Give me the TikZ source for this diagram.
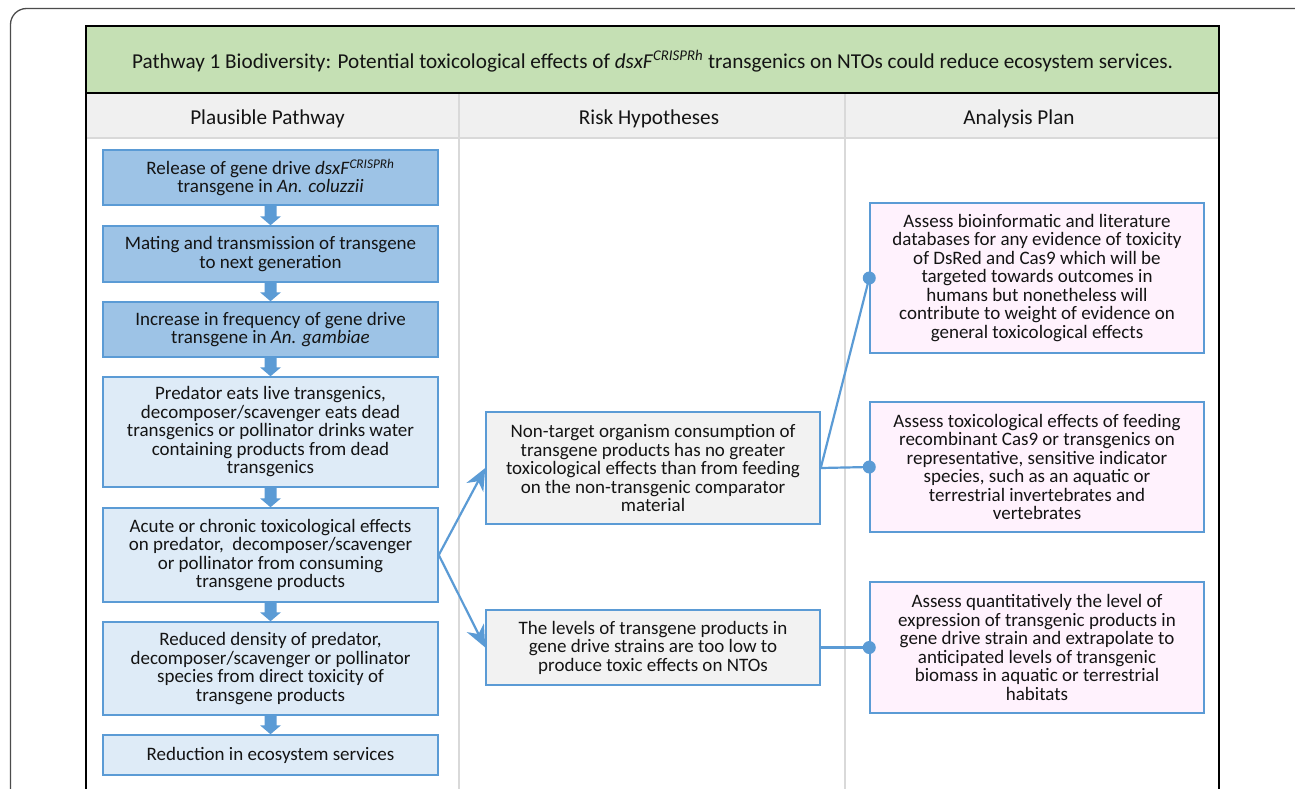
\documentclass[tikz,border=0pt]{standalone}
\usepackage{fontspec}
\setmainfont{Carlito}
\usetikzlibrary{arrows.meta,calc}
\definecolor{edgeblue}{HTML}{5B9BD5}
\definecolor{darkfill}{HTML}{9DC3E6}
\definecolor{lightfill}{HTML}{DEEBF7}
\definecolor{hypfill}{HTML}{F2F2F2}
\definecolor{planfill}{HTML}{FFF2FD}
\definecolor{titlegreen}{HTML}{C5E0B4}
\definecolor{headgray}{HTML}{F0F0F0}
\definecolor{rulegray}{HTML}{D9D9D9}
\definecolor{textcol}{HTML}{141414}

% block arrow between two stacked boxes
\newcommand\flowarrow[2]{%
  \fill[edgeblue] let \p1=(#1.south), \p2=(#2.north) in
    (\x1-6pt,\y1) -- (\x1+6pt,\y1) -- (\x1+6pt,\y2+9pt) -- (\x1+10.5pt,\y2+9pt)
    -- (\x1,\y2) -- (\x1-10.5pt,\y2+9pt) -- (\x1-6pt,\y2+9pt) -- cycle;}

\begin{document}
\begin{tikzpicture}[x=1pt,y=-1pt,
  boxbase/.style={draw=edgeblue, line width=1.5pt, inner sep=0pt, align=center,
    text=textcol, font=\fontsize{19}{18.5}\selectfont},
  darkbox/.style={boxbase, fill=darkfill, minimum width=335pt},
  lightbox/.style={boxbase, fill=lightfill, minimum width=335pt},
  hypbox/.style={boxbase, fill=hypfill, minimum width=334pt},
  planbox/.style={boxbase, fill=planfill, minimum width=334pt},
  link/.style={draw=edgeblue, line width=2.2pt},
  barb/.style={-{Stealth[length=22pt, width=19pt, inset=7pt]}},
  headtext/.style={font=\fontsize{21.2}{25}\selectfont, text=textcol},
]
\useasboundingbox (0,0) rectangle (1295,789);
\fill[white] (0,0) rectangle (1295,789);
\clip (0,0) rectangle (1295,789);

% outer frame
\draw[line width=1.3pt, draw=black!70, rounded corners=16pt] (10.5,8.5) rectangle (1320,830);

% table
\fill[titlegreen] (86,26) rectangle (1219,93);
\fill[headgray] (86,93) rectangle (1219,138);
\draw[rulegray, line width=2pt] (86,138) -- (1219,138);
\draw[rulegray, line width=1.5pt] (459,93) -- (459,800) (845,93) -- (845,800);
\draw[line width=2pt] (86,93) -- (1219,93);
\draw[line width=2.2pt] (86,800) -- (86,26) -- (1219,26) -- (1219,800);

\node[headtext] (title) at (652.5,61) {Pathway 1 Biodiversity: Potential toxicological effects of \textit{dsxF}\textsuperscript{\textit{CRISPRh}} transgenics on NTOs could reduce ecosystem services.};
\node[headtext] (hpath) at (267.5,118.5) {Plausible Pathway};
\node[headtext] (hrisk) at (649,118.5) {Risk Hypotheses};
\node[headtext] (hplan) at (1019,118.5) {Analysis Plan};

% plausible pathway
\node[darkbox, minimum height=55pt] (b1) at (270.5,177.5)
  {Release of gene drive \textit{dsxF}\textsuperscript{\textit{CRISPRh}}\\transgene in \textit{An. coluzzii}};
\node[darkbox, minimum height=56pt] (b2) at (270.5,254)
  {Mating and transmission of transgene\\to next generation};
\node[darkbox, minimum height=55pt] (b3) at (270.5,329.5)
  {Increase in frequency of gene drive\\transgene in \textit{An. gambiae}};
\node[lightbox, minimum height=110pt] (b4) at (270.5,432)
  {Predator eats live transgenics,\\decomposer/scavenger eats dead\\transgenics or pollinator drinks water\\containing products from dead\\transgenics};
\node[lightbox, minimum height=94pt] (b5) at (270.5,555)
  {Acute or chronic toxicological effects\\on predator,\ \ decomposer/scavenger\\or pollinator from consuming\\transgene products};
\node[lightbox, minimum height=93pt] (b6) at (270.5,668.5)
  {Reduced density of predator,\\decomposer/scavenger or pollinator\\species from direct toxicity of\\transgene products};
\node[lightbox, minimum height=40pt] (b7) at (270.5,755)
  {Reduction in ecosystem services};

\flowarrow{b1}{b2}
\flowarrow{b2}{b3}
\flowarrow{b3}{b4}
\flowarrow{b4}{b5}
\flowarrow{b5}{b6}
\flowarrow{b6}{b7}

% risk hypotheses
\node[hypbox, minimum height=112pt] (h1) at (653,468)
  {Non-target organism consumption of\\transgene products has no greater\\toxicological effects than from feeding\\on the non-transgenic comparator\\material};
\node[hypbox, minimum height=75pt] (h2) at (653,647.5)
  {The levels of transgene products in\\gene drive strains are too low to\\produce toxic effects on NTOs};

% analysis plan
\node[planbox, minimum height=150pt] (p1) at (1037,278)
  {Assess bioinformatic and literature\\databases for any evidence of toxicity\\of DsRed and Cas9 which will be\\targeted towards outcomes in\\humans but nonetheless will\\contribute to weight of evidence on\\general toxicological effects};
\node[planbox, minimum height=130pt] (p2) at (1037,467)
  {Assess toxicological effects of feeding\\recombinant Cas9 or transgenics on\\representative, sensitive indicator\\species, such as an aquatic or\\terrestrial invertebrates and\\vertebrates};
\node[planbox, minimum height=131pt] (p3) at (1037,647.5)
  {Assess quantitatively the level of\\expression of transgenic products in\\gene drive strain and extrapolate to\\anticipated levels of transgenic\\biomass in aquatic or terrestrial\\habitats};

% connectors
\draw[link, barb] (b5.east) -- (h1.west);
\draw[link, barb] (b5.east) -- (h2.west);
\draw[link] (h1.east) -- (p1.west);
\draw[link] (h1.east) -- (p2.west);
\draw[link] (h2.east) -- (p3.west);
\fill[edgeblue] (p1.west) circle[radius=6.5pt];
\fill[edgeblue] (p2.west) circle[radius=6.5pt];
\fill[edgeblue] (p3.west) circle[radius=6.5pt];
\end{tikzpicture}
\end{document}
